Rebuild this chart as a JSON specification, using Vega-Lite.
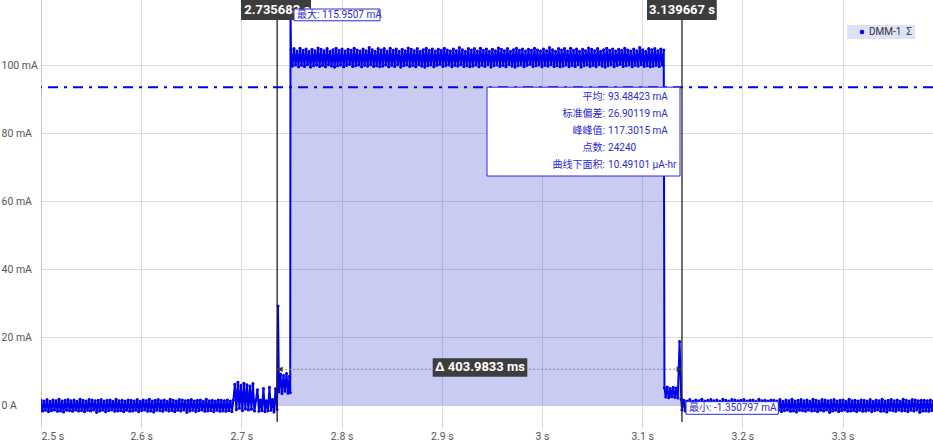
{
  "$schema": "https://vega.github.io/schema/vega-lite/v6.json",
  "width": 892,
  "height": 422,
  "autosize": "none",
  "padding": {"left": 41, "top": 0, "right": 0, "bottom": 21},
  "background": "white",
  "config": {
    "font": "Roboto, 'Noto Sans CJK SC'",
    "view": {"stroke": null}
  },
  "datasets": {
    "sig": [
    {"t":2.5,"v":1.5},{"t":2.5015,"v":-1.6},{"t":2.503,"v":1.3},{"t":2.5045,"v":-1.4},{"t":2.506,"v":1.7},{"t":2.5075,"v":-1.8},{"t":2.509,"v":1.2},{"t":2.5105,"v":-1.5},{"t":2.512,"v":1.6},{"t":2.5135,"v":-1.3},
    {"t":2.515,"v":1.4},{"t":2.5165,"v":-1.7},{"t":2.518,"v":1.8},{"t":2.5195,"v":-1.6},{"t":2.521,"v":1.3},{"t":2.5225,"v":-1.9},{"t":2.524,"v":1.5},{"t":2.5255,"v":-1.4},{"t":2.527,"v":1.7},{"t":2.5285,"v":-1.5},
    {"t":2.53,"v":1.4},{"t":2.5315,"v":-1.7},{"t":2.533,"v":1.6},{"t":2.5345,"v":-1.3},{"t":2.536,"v":1.2},{"t":2.5375,"v":-1.6},{"t":2.539,"v":1.8},{"t":2.5405,"v":-1.5},{"t":2.542,"v":1.5},{"t":2.5435,"v":-1.8},
    {"t":2.545,"v":1.3},{"t":2.5465,"v":-1.4},{"t":2.548,"v":1.7},{"t":2.5495,"v":-1.6},{"t":2.551,"v":1.6},{"t":2.5525,"v":-1.3},{"t":2.554,"v":1.4},{"t":2.5555,"v":-2.0},{"t":2.557,"v":1.5},{"t":2.5585,"v":-1.6},
    {"t":2.56,"v":1.7},{"t":2.5615,"v":-1.4},{"t":2.563,"v":1.3},{"t":2.5645,"v":-1.8},{"t":2.566,"v":1.5},{"t":2.5675,"v":-1.5},{"t":2.569,"v":1.6},{"t":2.5705,"v":-1.3},{"t":2.572,"v":1.2},{"t":2.5735,"v":-1.7},
    {"t":2.575,"v":1.8},{"t":2.5765,"v":-1.6},{"t":2.578,"v":1.4},{"t":2.5795,"v":-1.5},{"t":2.581,"v":1.5},{"t":2.5825,"v":-1.8},{"t":2.584,"v":1.3},{"t":2.5855,"v":-1.4},{"t":2.587,"v":1.6},{"t":2.5885,"v":-1.7},
    {"t":2.59,"v":1.5},{"t":2.5915,"v":-1.6},{"t":2.593,"v":1.3},{"t":2.5945,"v":-1.4},{"t":2.596,"v":1.7},{"t":2.5975,"v":-1.8},{"t":2.599,"v":1.2},{"t":2.6005,"v":-1.5},{"t":2.602,"v":1.6},{"t":2.6035,"v":-1.3},
    {"t":2.605,"v":1.4},{"t":2.6065,"v":-1.7},{"t":2.608,"v":1.8},{"t":2.6095,"v":-1.6},{"t":2.611,"v":1.3},{"t":2.6125,"v":-1.9},{"t":2.614,"v":1.5},{"t":2.6155,"v":-1.4},{"t":2.617,"v":1.7},{"t":2.6185,"v":-1.5},
    {"t":2.62,"v":1.4},{"t":2.6215,"v":-1.7},{"t":2.623,"v":1.6},{"t":2.6245,"v":-1.3},{"t":2.626,"v":1.2},{"t":2.6275,"v":-1.6},{"t":2.629,"v":1.8},{"t":2.6305,"v":-1.5},{"t":2.632,"v":1.5},{"t":2.6335,"v":-1.8},
    {"t":2.635,"v":1.3},{"t":2.6365,"v":-1.4},{"t":2.638,"v":1.7},{"t":2.6395,"v":-1.6},{"t":2.641,"v":1.6},{"t":2.6425,"v":-1.3},{"t":2.644,"v":1.4},{"t":2.6455,"v":-2.0},{"t":2.647,"v":1.5},{"t":2.6485,"v":-1.6},
    {"t":2.65,"v":1.7},{"t":2.6515,"v":-1.4},{"t":2.653,"v":1.3},{"t":2.6545,"v":-1.8},{"t":2.656,"v":1.5},{"t":2.6575,"v":-1.5},{"t":2.659,"v":1.6},{"t":2.6605,"v":-1.3},{"t":2.662,"v":1.2},{"t":2.6635,"v":-1.7},
    {"t":2.665,"v":1.8},{"t":2.6665,"v":-1.6},{"t":2.668,"v":1.4},{"t":2.6695,"v":-1.5},{"t":2.671,"v":1.5},{"t":2.6725,"v":-1.8},{"t":2.674,"v":1.3},{"t":2.6755,"v":-1.4},{"t":2.677,"v":1.6},{"t":2.6785,"v":-1.7},
    {"t":2.68,"v":1.5},{"t":2.6815,"v":-1.6},{"t":2.683,"v":1.4},{"t":2.6845,"v":-1.7},{"t":2.686,"v":1.6},{"t":2.6875,"v":-1.5},{"t":2.689,"v":1.3},{"t":2.6905,"v":-1.8},{"t":2.692,"v":1.6},
    {"t":2.6935,"v":6.2},{"t":2.695,"v":-1.2},{"t":2.6965,"v":6.8},{"t":2.698,"v":-0.8},{"t":2.6995,"v":5.9},{"t":2.701,"v":-1.5},{"t":2.7025,"v":6.5},{"t":2.704,"v":-1.0},{"t":2.7055,"v":6.1},{"t":2.707,"v":-1.3},{"t":2.7085,"v":5.7},{"t":2.710,"v":-1.1},{"t":2.7115,"v":6.4},{"t":2.713,"v":-1.6},
    {"t":2.7145,"v":1.5},{"t":2.716,"v":4.6},{"t":2.7175,"v":-1.7},{"t":2.719,"v":1.6},{"t":2.7205,"v":-1.5},{"t":2.722,"v":5.0},{"t":2.7235,"v":-1.8},{"t":2.725,"v":1.4},{"t":2.7265,"v":-1.6},{"t":2.728,"v":5.3},{"t":2.7295,"v":-1.4},{"t":2.731,"v":1.7},{"t":2.7325,"v":-1.9},{"t":2.734,"v":4.9},{"t":2.7355,"v":-1.2},
    {"t":2.7365,"v":29.2},
    {"t":2.7375,"v":4.0},{"t":2.739,"v":9.2},{"t":2.7405,"v":3.5},{"t":2.742,"v":8.8},{"t":2.7435,"v":4.2},{"t":2.745,"v":9.4},{"t":2.7465,"v":3.6},{"t":2.748,"v":8.6},{"t":2.7487,"v":3.8},
    {"t":2.749,"v":115.9507},
    {"t":2.7495,"v":104.4},{"t":2.751,"v":99.7},{"t":2.7525,"v":104.8},{"t":2.754,"v":100.0},{"t":2.7555,"v":104.1},{"t":2.757,"v":99.5},{"t":2.7585,"v":104.9},{"t":2.76,"v":99.9},{"t":2.7615,"v":104.3},{"t":2.763,"v":99.6},
    {"t":2.7645,"v":104.7},{"t":2.766,"v":100.1},{"t":2.7675,"v":104.0},{"t":2.769,"v":99.4},{"t":2.7705,"v":104.6},{"t":2.772,"v":99.8},{"t":2.7735,"v":104.2},{"t":2.775,"v":100.0},{"t":2.7765,"v":105.0},{"t":2.778,"v":99.6},
    {"t":2.7795,"v":104.6},{"t":2.781,"v":99.9},{"t":2.7825,"v":104.2},{"t":2.784,"v":99.5},{"t":2.7855,"v":104.8},{"t":2.787,"v":100.1},{"t":2.7885,"v":104.0},{"t":2.79,"v":99.7},{"t":2.7915,"v":104.5},{"t":2.793,"v":99.4},
    {"t":2.7945,"v":104.9},{"t":2.796,"v":99.8},{"t":2.7975,"v":104.3},{"t":2.799,"v":100.0},{"t":2.8005,"v":104.7},{"t":2.802,"v":99.5},{"t":2.8035,"v":104.1},{"t":2.805,"v":99.9},{"t":2.8065,"v":104.6},{"t":2.808,"v":100.2},
    {"t":2.8095,"v":104.3},{"t":2.811,"v":99.6},{"t":2.8125,"v":104.9},{"t":2.814,"v":99.8},{"t":2.8155,"v":104.4},{"t":2.817,"v":100.0},{"t":2.8185,"v":104.1},{"t":2.82,"v":99.5},{"t":2.8215,"v":104.7},{"t":2.823,"v":99.9},
    {"t":2.8245,"v":104.2},{"t":2.826,"v":99.7},{"t":2.8275,"v":105.1},{"t":2.829,"v":100.1},{"t":2.8305,"v":104.5},{"t":2.832,"v":99.6},{"t":2.8335,"v":104.0},{"t":2.835,"v":99.8},{"t":2.8365,"v":104.8},{"t":2.838,"v":99.5},
    {"t":2.8395,"v":104.4},{"t":2.841,"v":99.7},{"t":2.8425,"v":104.8},{"t":2.844,"v":100.0},{"t":2.8455,"v":104.1},{"t":2.847,"v":99.5},{"t":2.8485,"v":104.9},{"t":2.85,"v":99.9},{"t":2.8515,"v":104.3},{"t":2.853,"v":99.6},
    {"t":2.8545,"v":104.7},{"t":2.856,"v":100.1},{"t":2.8575,"v":104.0},{"t":2.859,"v":99.4},{"t":2.8605,"v":104.6},{"t":2.862,"v":99.8},{"t":2.8635,"v":104.2},{"t":2.865,"v":100.0},{"t":2.8665,"v":105.0},{"t":2.868,"v":99.6},
    {"t":2.8695,"v":104.6},{"t":2.871,"v":99.9},{"t":2.8725,"v":104.2},{"t":2.874,"v":99.5},{"t":2.8755,"v":104.8},{"t":2.877,"v":100.1},{"t":2.8785,"v":104.0},{"t":2.88,"v":99.7},{"t":2.8815,"v":104.5},{"t":2.883,"v":99.4},
    {"t":2.8845,"v":104.9},{"t":2.886,"v":99.8},{"t":2.8875,"v":104.3},{"t":2.889,"v":100.0},{"t":2.8905,"v":104.7},{"t":2.892,"v":99.5},{"t":2.8935,"v":104.1},{"t":2.895,"v":99.9},{"t":2.8965,"v":104.6},{"t":2.898,"v":100.2},
    {"t":2.8995,"v":104.3},{"t":2.901,"v":99.6},{"t":2.9025,"v":104.9},{"t":2.904,"v":99.8},{"t":2.9055,"v":104.4},{"t":2.907,"v":100.0},{"t":2.9085,"v":104.1},{"t":2.91,"v":99.5},{"t":2.9115,"v":104.7},{"t":2.913,"v":99.9},
    {"t":2.9145,"v":104.2},{"t":2.916,"v":99.7},{"t":2.9175,"v":105.1},{"t":2.919,"v":100.1},{"t":2.9205,"v":104.5},{"t":2.922,"v":99.6},{"t":2.9235,"v":104.0},{"t":2.925,"v":99.8},{"t":2.9265,"v":104.8},{"t":2.928,"v":99.5},
    {"t":2.9295,"v":104.4},{"t":2.931,"v":99.7},{"t":2.9325,"v":104.8},{"t":2.934,"v":100.0},{"t":2.9355,"v":104.1},{"t":2.937,"v":99.5},{"t":2.9385,"v":104.9},{"t":2.94,"v":99.9},{"t":2.9415,"v":104.3},{"t":2.943,"v":99.6},
    {"t":2.9445,"v":104.7},{"t":2.946,"v":100.1},{"t":2.9475,"v":104.0},{"t":2.949,"v":99.4},{"t":2.9505,"v":104.6},{"t":2.952,"v":99.8},{"t":2.9535,"v":104.2},{"t":2.955,"v":100.0},{"t":2.9565,"v":105.0},{"t":2.958,"v":99.6},
    {"t":2.9595,"v":104.6},{"t":2.961,"v":99.9},{"t":2.9625,"v":104.2},{"t":2.964,"v":99.5},{"t":2.9655,"v":104.8},{"t":2.967,"v":100.1},{"t":2.9685,"v":104.0},{"t":2.97,"v":99.7},{"t":2.9715,"v":104.5},{"t":2.973,"v":99.4},
    {"t":2.9745,"v":104.9},{"t":2.976,"v":99.8},{"t":2.9775,"v":104.3},{"t":2.979,"v":100.0},{"t":2.9805,"v":104.7},{"t":2.982,"v":99.5},{"t":2.9835,"v":104.1},{"t":2.985,"v":99.9},{"t":2.9865,"v":104.6},{"t":2.988,"v":100.2},
    {"t":2.9895,"v":104.3},{"t":2.991,"v":99.6},{"t":2.9925,"v":104.9},{"t":2.994,"v":99.8},{"t":2.9955,"v":104.4},{"t":2.997,"v":100.0},{"t":2.9985,"v":104.1},{"t":3.0,"v":99.5},{"t":3.0015,"v":104.7},{"t":3.003,"v":99.9},
    {"t":3.0045,"v":104.2},{"t":3.006,"v":99.7},{"t":3.0075,"v":105.1},{"t":3.009,"v":100.1},{"t":3.0105,"v":104.5},{"t":3.012,"v":99.6},{"t":3.0135,"v":104.0},{"t":3.015,"v":99.8},{"t":3.0165,"v":104.8},{"t":3.018,"v":99.5},
    {"t":3.0195,"v":104.4},{"t":3.021,"v":99.7},{"t":3.0225,"v":104.8},{"t":3.024,"v":100.0},{"t":3.0255,"v":104.1},{"t":3.027,"v":99.5},{"t":3.0285,"v":104.9},{"t":3.03,"v":99.9},{"t":3.0315,"v":104.3},{"t":3.033,"v":99.6},
    {"t":3.0345,"v":104.7},{"t":3.036,"v":100.1},{"t":3.0375,"v":104.0},{"t":3.039,"v":99.4},{"t":3.0405,"v":104.6},{"t":3.042,"v":99.8},{"t":3.0435,"v":104.2},{"t":3.045,"v":100.0},{"t":3.0465,"v":105.0},{"t":3.048,"v":99.6},
    {"t":3.0495,"v":104.6},{"t":3.051,"v":99.9},{"t":3.0525,"v":104.2},{"t":3.054,"v":99.5},{"t":3.0555,"v":104.8},{"t":3.057,"v":100.1},{"t":3.0585,"v":104.0},{"t":3.06,"v":99.7},{"t":3.0615,"v":104.5},{"t":3.063,"v":99.4},
    {"t":3.0645,"v":104.9},{"t":3.066,"v":99.8},{"t":3.0675,"v":104.3},{"t":3.069,"v":100.0},{"t":3.0705,"v":104.7},{"t":3.072,"v":99.5},{"t":3.0735,"v":104.1},{"t":3.075,"v":99.9},{"t":3.0765,"v":104.6},{"t":3.078,"v":100.2},
    {"t":3.0795,"v":104.3},{"t":3.081,"v":99.6},{"t":3.0825,"v":104.9},{"t":3.084,"v":99.8},{"t":3.0855,"v":104.4},{"t":3.087,"v":100.0},{"t":3.0885,"v":104.1},{"t":3.09,"v":99.5},{"t":3.0915,"v":104.7},{"t":3.093,"v":99.9},
    {"t":3.0945,"v":104.2},{"t":3.096,"v":99.7},{"t":3.0975,"v":105.1},{"t":3.099,"v":100.1},{"t":3.1005,"v":104.5},{"t":3.102,"v":99.6},{"t":3.1035,"v":104.0},{"t":3.105,"v":99.8},{"t":3.1065,"v":104.8},{"t":3.108,"v":99.5},
    {"t":3.1095,"v":104.5},{"t":3.111,"v":99.7},{"t":3.1125,"v":104.8},{"t":3.114,"v":99.9},{"t":3.1155,"v":104.2},{"t":3.117,"v":99.6},{"t":3.1185,"v":104.7},{"t":3.12,"v":100.0},{"t":3.1215,"v":104.4},
    {"t":3.1222,"v":5.2},{"t":3.1235,"v":2.5},{"t":3.125,"v":5.4},{"t":3.1265,"v":2.3},{"t":3.128,"v":5.0},{"t":3.1295,"v":2.6},{"t":3.131,"v":5.3},{"t":3.1325,"v":2.4},{"t":3.134,"v":5.1},{"t":3.1355,"v":2.2},
    {"t":3.1373,"v":18.8},{"t":3.139,"v":1.8},{"t":3.1397,"v":-1.350797},
    {"t":3.1415,"v":1.5},{"t":3.143,"v":-1.6},{"t":3.1445,"v":1.3},{"t":3.146,"v":-1.4},{"t":3.1475,"v":1.7},{"t":3.149,"v":-1.8},{"t":3.1505,"v":1.2},{"t":3.152,"v":-1.5},{"t":3.1535,"v":1.6},{"t":3.155,"v":-1.3},
    {"t":3.1565,"v":1.4},{"t":3.158,"v":-1.7},{"t":3.1595,"v":1.8},{"t":3.161,"v":-1.6},{"t":3.1625,"v":1.3},{"t":3.164,"v":-1.9},{"t":3.1655,"v":1.5},{"t":3.167,"v":-1.4},{"t":3.1685,"v":1.7},{"t":3.17,"v":-1.5},
    {"t":3.1715,"v":1.4},{"t":3.173,"v":-1.7},{"t":3.1745,"v":1.6},{"t":3.176,"v":-1.3},{"t":3.1775,"v":1.2},{"t":3.179,"v":-1.6},{"t":3.1805,"v":1.8},{"t":3.182,"v":-1.5},{"t":3.1835,"v":1.5},{"t":3.185,"v":-1.8},
    {"t":3.1865,"v":1.3},{"t":3.188,"v":-1.4},{"t":3.1895,"v":1.7},{"t":3.191,"v":-1.6},{"t":3.1925,"v":1.6},{"t":3.194,"v":-1.3},{"t":3.1955,"v":1.4},{"t":3.197,"v":-2.0},{"t":3.1985,"v":1.5},{"t":3.2,"v":-1.6},
    {"t":3.2015,"v":1.7},{"t":3.203,"v":-1.4},{"t":3.2045,"v":1.3},{"t":3.206,"v":-1.8},{"t":3.2075,"v":1.5},{"t":3.209,"v":-1.5},{"t":3.2105,"v":1.6},{"t":3.212,"v":-1.3},{"t":3.2135,"v":1.2},{"t":3.215,"v":-1.7},
    {"t":3.2165,"v":1.8},{"t":3.218,"v":-1.6},{"t":3.2195,"v":1.4},{"t":3.221,"v":-1.5},{"t":3.2225,"v":1.5},{"t":3.224,"v":-1.8},{"t":3.2255,"v":1.3},{"t":3.227,"v":-1.4},{"t":3.2285,"v":1.6},{"t":3.23,"v":-1.7},
    {"t":3.2315,"v":1.5},{"t":3.233,"v":-1.6},{"t":3.2345,"v":1.3},{"t":3.236,"v":-1.4},{"t":3.2375,"v":1.7},{"t":3.239,"v":-1.8},{"t":3.2405,"v":1.2},{"t":3.242,"v":-1.5},{"t":3.2435,"v":1.6},{"t":3.245,"v":-1.3},
    {"t":3.2465,"v":1.4},{"t":3.248,"v":-1.7},{"t":3.2495,"v":1.8},{"t":3.251,"v":-1.6},{"t":3.2525,"v":1.3},{"t":3.254,"v":-1.9},{"t":3.2555,"v":1.5},{"t":3.257,"v":-1.4},{"t":3.2585,"v":1.7},{"t":3.26,"v":-1.5},
    {"t":3.2615,"v":1.4},{"t":3.263,"v":-1.7},{"t":3.2645,"v":1.6},{"t":3.266,"v":-1.3},{"t":3.2675,"v":1.2},{"t":3.269,"v":-1.6},{"t":3.2705,"v":1.8},{"t":3.272,"v":-1.5},{"t":3.2735,"v":1.5},{"t":3.275,"v":-1.8},
    {"t":3.2765,"v":1.3},{"t":3.278,"v":-1.4},{"t":3.2795,"v":1.7},{"t":3.281,"v":-1.6},{"t":3.2825,"v":1.6},{"t":3.284,"v":-1.3},{"t":3.2855,"v":1.4},{"t":3.287,"v":-2.0},{"t":3.2885,"v":1.5},{"t":3.29,"v":-1.6},
    {"t":3.2915,"v":1.7},{"t":3.293,"v":-1.4},{"t":3.2945,"v":1.3},{"t":3.296,"v":-1.8},{"t":3.2975,"v":1.5},{"t":3.299,"v":-1.5},{"t":3.3005,"v":1.6},{"t":3.302,"v":-1.3},{"t":3.3035,"v":1.2},{"t":3.305,"v":-1.7},
    {"t":3.3065,"v":1.8},{"t":3.308,"v":-1.6},{"t":3.3095,"v":1.4},{"t":3.311,"v":-1.5},{"t":3.3125,"v":1.5},{"t":3.314,"v":-1.8},{"t":3.3155,"v":1.3},{"t":3.317,"v":-1.4},{"t":3.3185,"v":1.6},{"t":3.32,"v":-1.7},
    {"t":3.3215,"v":1.5},{"t":3.323,"v":-1.6},{"t":3.3245,"v":1.3},{"t":3.326,"v":-1.4},{"t":3.3275,"v":1.7},{"t":3.329,"v":-1.8},{"t":3.3305,"v":1.2},{"t":3.332,"v":-1.5},{"t":3.3335,"v":1.6},{"t":3.335,"v":-1.3},
    {"t":3.3365,"v":1.4},{"t":3.338,"v":-1.7},{"t":3.3395,"v":1.8},{"t":3.341,"v":-1.6},{"t":3.3425,"v":1.3},{"t":3.344,"v":-1.9},{"t":3.3455,"v":1.5},{"t":3.347,"v":-1.4},{"t":3.3485,"v":1.7},{"t":3.35,"v":-1.5},
    {"t":3.3515,"v":1.4},{"t":3.353,"v":-1.7},{"t":3.3545,"v":1.6},{"t":3.356,"v":-1.3},{"t":3.3575,"v":1.2},{"t":3.359,"v":-1.6},{"t":3.3605,"v":1.8},{"t":3.362,"v":-1.5},{"t":3.3635,"v":1.5},{"t":3.365,"v":-1.8},
    {"t":3.3665,"v":1.3},{"t":3.368,"v":-1.4},{"t":3.3695,"v":1.7},{"t":3.371,"v":-1.6},{"t":3.3725,"v":1.6},{"t":3.374,"v":-1.3},{"t":3.3755,"v":1.4},{"t":3.377,"v":-2.0},{"t":3.3785,"v":1.5},{"t":3.38,"v":-1.6},
    {"t":3.3815,"v":1.5},{"t":3.383,"v":-1.6},{"t":3.3845,"v":1.4},{"t":3.386,"v":-1.7},{"t":3.3875,"v":1.6},{"t":3.389,"v":-1.5},{"t":3.3905,"v":1.3}
    ],
    "one": [{"k": 1}]
  },
  "layer": [
    {
      "data": {"name": "sig"},
      "transform": [{"filter": "datum.t >= 2.7357 && datum.t <= 3.1397"}],
      "mark": {"type": "area", "color": "#2a2fd0", "opacity": 0.25, "clip": true},
      "encoding": {
        "x": {
          "field": "t", "type": "quantitative",
          "scale": {"domain": [2.5, 3.3902], "nice": false, "zero": false},
          "axis": {
            "title": null, "values": [2.5, 2.6, 2.7, 2.8, 2.9, 3.0, 3.1, 3.2, 3.3],
            "labelExpr": "format(datum.value, '~g') + ' s'",
            "grid": true, "gridColor": "#dcdcdc", "domain": false,
            "ticks": true, "tickColor": "#cfcfcf", "tickSize": 5,
            "labelFontSize": 10.5, "labelColor": "#555555", "labelPadding": 4, "labelFont": "Roboto"
          }
        },
        "y": {
          "field": "v", "type": "quantitative",
          "scale": {"domain": [-4.85, 119.1], "nice": false, "zero": false},
          "axis": {
            "title": null, "values": [0, 20, 40, 60, 80, 100],
            "labelExpr": "datum.value == 0 ? '0 A' : datum.value + ' mA'",
            "grid": true, "gridColor": "#dcdcdc", "domain": true, "domainColor": "#c4c4c4",
            "ticks": false, "tickSize": 0, "labelAlign": "left", "labelPadding": 40,
            "labelFontSize": 10.5, "labelColor": "#555555", "labelFont": "Roboto"
          }
        }
      }
    },
    {
      "data": {"name": "one"},
      "mark": {"type": "rule", "color": "#0000ee", "strokeWidth": 2, "strokeDash": [10, 6, 3, 6]},
      "encoding": {"y": {"datum": 93.48423, "type": "quantitative"}}
    },
    {
      "data": {"name": "sig"},
      "mark": {"type": "line", "color": "#0000f0", "strokeWidth": 2, "strokeJoin": "round", "clip": true},
      "encoding": {
        "x": {"field": "t", "type": "quantitative"},
        "y": {"field": "v", "type": "quantitative"}
      }
    },
    {
      "data": {"name": "sig"},
      "mark": {"type": "point", "filled": true, "size": 10, "opacity": 1, "clip": true},
      "encoding": {
        "x": {"field": "t", "type": "quantitative"},
        "y": {"field": "v", "type": "quantitative"},
        "color": {
          "datum": "DMM-1\u00a0\u00a0Σ\u00a0",
          "scale": {"range": ["#0000f0"]},
          "legend": {
            "orient": "none", "legendX": 806, "legendY": 25, "title": null,
            "fillColor": "#dfe2f6", "padding": 2, "symbolType": "circle", "symbolSize": 20,
            "symbolOffset": 8, "labelOffset": 2, "labelFontSize": 10, "labelFont": "Roboto",
            "labelColor": "#333333"
          }
        }
      }
    },
    {
      "data": {"name": "one"},
      "mark": {"type": "point", "filled": true, "size": 36, "color": "#0000f0", "opacity": 1},
      "encoding": {"x": {"datum": 2.749, "type": "quantitative"}, "y": {"datum": 115.9507, "type": "quantitative"}}
    },
    {
      "data": {"name": "one"},
      "mark": {"type": "rule", "color": "#222222", "strokeWidth": 1.3},
      "encoding": {"x": {"datum": 2.735683, "type": "quantitative"}}
    },
    {
      "data": {"name": "one"},
      "mark": {"type": "rule", "color": "#222222", "strokeWidth": 1.3},
      "encoding": {"x": {"datum": 3.139667, "type": "quantitative"}}
    },
    {
      "data": {"name": "one"},
      "mark": {"type": "rule", "color": "#888888", "strokeWidth": 1, "strokeDash": [2, 2]},
      "encoding": {"x": {"datum": 2.735683, "type": "quantitative"}, "x2": {"datum": 3.139667}, "y": {"datum": 10.63, "type": "quantitative"}}
    },
    {
      "data": {"name": "one"},
      "mark": {"type": "point", "shape": "triangle-left", "filled": true, "size": 30, "color": "#333333", "opacity": 1, "xOffset": 3},
      "encoding": {"x": {"datum": 2.735683, "type": "quantitative"}, "y": {"datum": 10.63, "type": "quantitative"}}
    },
    {
      "data": {"name": "one"},
      "mark": {"type": "point", "shape": "triangle-right", "filled": true, "size": 30, "color": "#333333", "opacity": 1, "xOffset": -3},
      "encoding": {"x": {"datum": 3.139667, "type": "quantitative"}, "y": {"datum": 10.63, "type": "quantitative"}}
    },
    {
      "data": {"name": "one"},
      "mark": {"type": "rect", "color": "#3d3d3d"},
      "encoding": {"x": {"datum": 2.6996, "type": "quantitative"}, "x2": {"datum": 2.7695}, "y": {"datum": 119.1, "type": "quantitative"}, "y2": {"datum": 113.2}}
    },
    {
      "data": {"name": "one"},
      "mark": {"type": "text", "text": "2.735683 s", "color": "white", "fontWeight": "bold", "fontSize": 13, "align": "center", "baseline": "middle", "font": "Roboto"},
      "encoding": {"x": {"datum": 2.735683, "type": "quantitative"}, "y": {"datum": 116.15, "type": "quantitative"}}
    },
    {
      "data": {"name": "one"},
      "mark": {"type": "rect", "color": "#3d3d3d"},
      "encoding": {"x": {"datum": 3.1048, "type": "quantitative"}, "x2": {"datum": 3.1744}, "y": {"datum": 119.1, "type": "quantitative"}, "y2": {"datum": 113.2}}
    },
    {
      "data": {"name": "one"},
      "mark": {"type": "text", "text": "3.139667 s", "color": "white", "fontWeight": "bold", "fontSize": 13, "align": "center", "baseline": "middle", "font": "Roboto"},
      "encoding": {"x": {"datum": 3.139667, "type": "quantitative"}, "y": {"datum": 116.15, "type": "quantitative"}}
    },
    {
      "data": {"name": "one"},
      "mark": {"type": "rect", "color": "#3d3d3d"},
      "encoding": {"x": {"datum": 2.8909, "type": "quantitative"}, "x2": {"datum": 2.9853}, "y": {"datum": 13.86, "type": "quantitative"}, "y2": {"datum": 8.46}}
    },
    {
      "data": {"name": "one"},
      "mark": {"type": "text", "text": "Δ 403.9833 ms", "color": "white", "fontWeight": "bold", "fontSize": 13, "align": "center", "baseline": "middle", "font": "Roboto"},
      "encoding": {"x": {"datum": 2.9381, "type": "quantitative"}, "y": {"datum": 11.16, "type": "quantitative"}}
    },
    {
      "data": {"name": "one"},
      "mark": {"type": "rect", "fill": "white", "stroke": "#2b2bd6", "strokeWidth": 1},
      "encoding": {"x": {"datum": 2.7525, "type": "quantitative"}, "x2": {"datum": 2.8383}, "y": {"datum": 116.45, "type": "quantitative"}, "y2": {"datum": 113.0}}
    },
    {
      "data": {"name": "one"},
      "mark": {"type": "text", "text": "最大: 115.9507 mA", "color": "#2b2bd6", "fontSize": 10, "align": "left", "baseline": "middle"},
      "encoding": {"x": {"datum": 2.7555, "type": "quantitative"}, "y": {"datum": 114.7, "type": "quantitative"}}
    },
    {
      "data": {"name": "one"},
      "mark": {"type": "rect", "fill": "white", "stroke": "#2b2bd6", "strokeWidth": 1},
      "encoding": {"x": {"datum": 3.1437, "type": "quantitative"}, "x2": {"datum": 3.2358}, "y": {"datum": 1.116, "type": "quantitative"}, "y2": {"datum": -2.584}}
    },
    {
      "data": {"name": "one"},
      "mark": {"type": "text", "text": "最小: -1.350797 mA", "color": "#2b2bd6", "fontSize": 10, "align": "left", "baseline": "middle"},
      "encoding": {"x": {"datum": 3.1467, "type": "quantitative"}, "y": {"datum": -0.73, "type": "quantitative"}}
    },
    {
      "data": {"name": "one"},
      "mark": {"type": "rect", "fill": "white", "stroke": "#2b2bd6", "strokeWidth": 1},
      "encoding": {"x": {"datum": 2.9451, "type": "quantitative"}, "x2": {"datum": 3.1377}, "y": {"datum": 93.48423, "type": "quantitative"}, "y2": {"datum": 67.4}}
    },
    {
      "data": {"name": "one"},
      "mark": {"type": "text", "text": ["平均:", "标准偏差:", "峰峰值:", "点数:", "曲线下面积:"], "lineHeight": 17, "color": "#2b2bd6", "fontSize": 10, "align": "right", "baseline": "middle"},
      "encoding": {"x": {"datum": 3.0629, "type": "quantitative"}, "y": {"datum": 90.69, "type": "quantitative"}}
    },
    {
      "data": {"name": "one"},
      "mark": {"type": "text", "text": ["93.48423 mA", "26.90119 mA", "117.3015 mA", "24240", "10.49101 µA-hr"], "lineHeight": 17, "color": "#2b2bd6", "fontSize": 10, "align": "left", "baseline": "middle"},
      "encoding": {"x": {"datum": 3.0659, "type": "quantitative"}, "y": {"datum": 90.69, "type": "quantitative"}}
    }
  ]
}
